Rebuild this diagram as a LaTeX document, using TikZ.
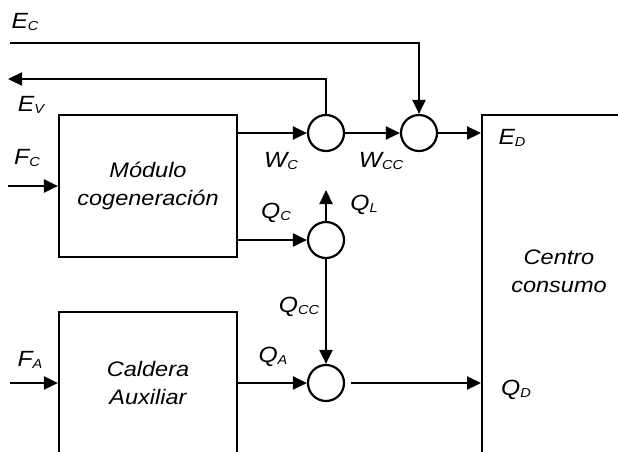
\documentclass[tikz,border=0pt]{standalone}
\usepackage{fontspec}
\setmainfont{Liberation Sans}[FakeStretch=1.12]
\usetikzlibrary{positioning,arrows.meta,calc}

\newcommand{\flow}[2]{#1\raisebox{-2pt}{\fontsize{13}{13}\selectfont #2}}

\begin{document}
\begin{tikzpicture}[
  x=1pt, y=-1pt,
  >={Triangle[length=14pt,width=13pt]},
  every node/.style={inner sep=0pt},
  blockbox/.style={
    rectangle, draw=black, line width=2.2pt,
    minimum width=178pt, minimum height=142pt,
    align=center,
    font=\fontsize{21}{28}\selectfont\itshape,
  },
  sumnode/.style={circle, draw=black, line width=2.2pt, minimum size=36pt},
  lbl/.style={font=\fontsize{22}{24}\selectfont\itshape},
  arr/.style={->, draw=black, line width=2.2pt},
]

\useasboundingbox (0,0) rectangle (618,451);
\clip (0,0) rectangle (618,451);

%---------- blocks ----------
\node[blockbox] (modbox) at (148,186) {M\'odulo\\cogeneraci\'on};
\node[blockbox] (caldbox) at (148,383) {Caldera\\Auxiliar};
\node[blockbox, anchor=north west, minimum width=220pt, minimum height=420pt]
  (centro) at (481,114) {};
\node[blockbox, draw=none, minimum width=0pt, minimum height=0pt]
  (ctext) at (559,271) {Centro\\consumo};

%---------- junctions ----------
\node[sumnode] (sum1) at (326,133) {};
\node[sumnode] (sum2) at (419,133) {};
\node[sumnode] (sum3) at (326,240) {};
\node[sumnode] (sum4) at (326,383) {};

%---------- free ends ----------
\coordinate (ecin) at (10,43);
\coordinate (evout) at (8,79);
\coordinate (fcin) at (8,186);
\coordinate (fain) at (10,383);
\coordinate (qlout) at (326,190);

%---------- arrows ----------
\draw[arr] (ecin) -| (sum2);
\draw[arr] (sum1) |- (evout);
\draw[arr] (fcin) -- (modbox);
\draw[arr] (fain) -- (caldbox);
\draw[arr] (modbox.east |- sum1) -- (sum1);
\draw[arr] (sum1) -- (sum2);
\draw[arr] (sum2) -- (sum2 -| centro.west);
\draw[arr] (modbox.east |- sum3) -- (sum3);
\draw[arr] (sum3) -- (qlout);
\draw[arr] (sum3) -- (sum4);
\draw[arr] (caldbox.east |- sum4) -- (sum4);
\draw[arr, shorten <=6pt] (sum4) -- (sum4 -| centro.west);

%---------- labels ----------
\node[lbl] (lec) at (25,22) {\flow{E}{C}};
\node[lbl] (lev) at (31,105) {\flow{E}{V}};
\node[lbl] (lfc) at (27,158) {\flow{F}{C}};
\node[lbl] (lfa) at (30,360) {\flow{F}{A}};
\node[lbl] (lwc) at (281,161) {\flow{W}{C}};
\node[lbl] (lwcc) at (381,161) {\flow{W}{CC}};
\node[lbl] (lqc) at (276,213) {\flow{Q}{C}};
\node[lbl] (lql) at (364,205) {\flow{Q}{L}};
\node[lbl] (lqcc) at (299,307) {\flow{Q}{CC}};
\node[lbl] (lqa) at (273,357) {\flow{Q}{A}};
\node[lbl] (led) at (512,138) {\flow{E}{D}};
\node[lbl] (lqd) at (516,390) {\flow{Q}{D}};

\end{tikzpicture}
\end{document}
